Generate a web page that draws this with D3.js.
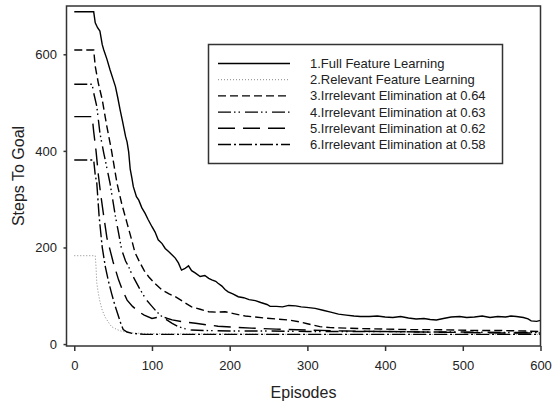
<!DOCTYPE html>
<html>
<head>
<meta charset="utf-8">
<script src="https://cdn.jsdelivr.net/npm/d3@7"></script>
<style>
  body { margin: 0; background: #fff; }
  svg { display: block; font-family: "Liberation Sans", Arial, sans-serif; }
  .axis text { font-size: 13px; fill: #222; }
  .axis path, .axis line { stroke: #333; stroke-width: 1.5; }
</style>
</head>
<body>
<svg id="chart" width="553" height="404"></svg>
<script>

// [episode, steps]
var fullFeature = [[0,688],[25,688],[27,665],[30,655],[33,648],[36,620],[38,609],[42,590],[46,568],[50,548],[53,533],[56,510],[59,485],[62,462],[66,430],[68,418],[70,398],[72,362],[74,345],[76,326],[80,305],[83,298],[87,282],[91,271],[95,258],[100,243],[104,232],[108,216],[113,208],[117,198],[121,192],[125,186],[130,178],[134,168],[138,153],[142,156],[147,162],[151,152],[156,147],[162,140],[168,142],[173,136],[177,133],[182,130],[185,126],[190,120],[194,113],[198,108],[204,104],[211,98],[218,96],[225,92],[233,90],[240,86],[248,82],[252,78],[260,78],[268,77],[276,80],[285,79],[292,77],[299,76],[310,74],[320,70],[330,66],[340,62],[350,60],[360,58],[368,57],[380,57],[390,58],[400,56],[410,55],[420,57],[430,54],[440,52],[450,53],[458,51],[466,50],[475,53],[485,56],[496,57],[505,55],[515,56],[525,58],[535,55],[545,57],[555,56],[562,58],[569,57],[578,55],[584,52],[588,48],[595,47],[600,49]];
var relevantFeature = [[0,183],[27,183],[28,160],[29,126],[31,105],[33,88],[36,70],[40,55],[44,45],[48,36],[55,30],[60,27],[66,25],[75,23],[90,22],[120,21],[200,21],[300,20],[400,20],[500,20],[600,20]];
var elim064 = [[0,609],[25,609],[27,575],[31,540],[36,506],[42,450],[48,400],[55,333],[61,291],[68,250],[74,215],[78,190],[84,170],[90,152],[96,139],[104,125],[113,112],[122,104],[130,98],[140,88],[151,77],[162,72],[173,67],[184,66],[194,67],[205,63],[220,58],[233,56],[245,54],[260,52],[275,50],[290,46],[300,42],[316,36],[330,34],[350,33],[370,32],[400,31],[430,30],[460,30],[490,29],[520,28],[550,28],[580,27],[600,26]];
var elim063 = [[0,538],[23,538],[25,520],[29,492],[33,437],[38,395],[40,380],[46,333],[53,264],[57,230],[61,195],[66,172],[70,160],[74,145],[78,133],[85,112],[93,91],[100,78],[106,67],[112,58],[119,50],[126,43],[134,36],[142,32],[151,29],[170,28],[200,27],[250,27],[300,26],[350,26],[400,26],[450,25],[500,25],[550,24],[600,24]];
var elim062 = [[0,471],[23,471],[25,440],[28,400],[31,350],[34,310],[38,264],[42,220],[46,195],[50,170],[57,133],[62,112],[68,91],[75,78],[83,67],[90,60],[100,53],[106,55],[113,57],[120,53],[126,50],[140,46],[156,43],[170,40],[185,37],[205,35],[228,33],[260,31],[300,29],[350,27],[400,26],[450,25],[500,24],[550,23],[600,23]];
var elim058 = [[0,381],[25,381],[27,350],[29,333],[32,264],[36,200],[40,160],[44,130],[48,105],[52,82],[57,57],[60,42],[63,30],[68,25],[75,22],[90,20],[150,20],[250,20],[350,20],[450,20],[550,20],[600,20]];

var seriesNames = ["1.Full Feature Learning", "2.Relevant Feature Learning", "3.Irrelevant Elimination at 0.64",
  "4.Irrelevant Elimination at 0.63", "5.Irrelevant Elimination at 0.62", "6.Irrelevant Elimination at 0.58"];
var xTicks = [0, 100, 200, 300, 400, 500, 600];
var yTicks = [0, 200, 400, 600];

var seriesData = [fullFeature, relevantFeature, elim064, elim063, elim062, elim058];

// line looks for each series (solid, dotted, dashed, dash-dot-dot, long dash, dash-dot)
var styles = [
  { color: "#000", width: 1.4, dash: null },
  { color: "#888", width: 1, dash: "1,2" },
  { color: "#000", width: 1.4, dash: "8,4" },
  { color: "#000", width: 1.4, dash: "13,3,1.5,3,1.5,5" },
  { color: "#000", width: 1.4, dash: "17,8" },
  { color: "#000", width: 1.4, dash: "13,3,2,3" }
];

var svg = d3.select("#chart");
// note: "top" is taken by window.top, so plot edges get their own names
var plotLeft = 66.5, plotRight = 540.5, plotTop = 6, plotBottom = 346;

var x = d3.scaleLinear().domain([-10, 600]).range([plotLeft, plotRight]);
var y = d3.scaleLinear().domain([-4, 700]).range([plotBottom, plotTop]);

var line = d3.line().x(d => x(d[0])).y(d => y(d[1]));

svg.append("g").selectAll("path")
  .data(seriesData)
  .enter().append("path")
  .attr("d", d => line(d))
  .attr("fill", "none")
  .attr("stroke", (d, i) => styles[i].color)
  .attr("stroke-width", (d, i) => styles[i].width)
  .attr("stroke-dasharray", (d, i) => styles[i].dash);

// frame round the plot
svg.append("rect")
  .attr("x", plotLeft).attr("y", plotTop)
  .attr("width", plotRight - plotLeft).attr("height", plotBottom - plotTop)
  .attr("fill", "none").attr("stroke", "#333").attr("stroke-width", 1.5);

var xAxis = svg.append("g").attr("class", "axis")
  .attr("transform", "translate(0," + plotBottom + ")")
  .call(d3.axisBottom(x).tickValues(xTicks).tickSize(5).tickSizeOuter(0).tickPadding(10));
xAxis.select(".domain").remove();

var yAxis = svg.append("g").attr("class", "axis")
  .attr("transform", "translate(" + plotLeft + ",0)")
  .call(d3.axisLeft(y).tickValues(yTicks).tickSize(3).tickSizeOuter(0).tickPadding(6.5));
yAxis.select(".domain").remove();

svg.append("text")
  .attr("x", (plotLeft + plotRight) / 2).attr("y", 398)
  .attr("text-anchor", "middle").attr("font-size", 16).attr("fill", "#222")
  .text("Episodes");

svg.append("text")
  .attr("transform", "translate(24," + (plotTop + plotBottom) / 2 + ") rotate(-90)")
  .attr("text-anchor", "middle").attr("font-size", 16).attr("fill", "#222")
  .text("Steps To Goal");

// legend
var legend = svg.append("g");
legend.append("rect")
  .attr("x", 208.5).attr("y", 44.5).attr("width", 294).attr("height", 119)
  .attr("fill", "#fff").attr("stroke", "#333").attr("stroke-width", 1.5);

var rows = legend.selectAll("g.row")
  .data(seriesNames)
  .enter().append("g")
  .attr("class", "row")
  .attr("transform", (d, i) => "translate(0," + (63.5 + i * 16.2) + ")");

rows.append("line")
  .attr("x1", 218).attr("x2", 290)
  .attr("stroke", (d, i) => styles[i].color)
  .attr("stroke-width", (d, i) => styles[i].width)
  .attr("stroke-dasharray", (d, i) => styles[i].dash);

rows.append("text")
  .attr("x", 310).attr("dy", "0.35em")
  .attr("font-size", 13).attr("fill", "#222")
  .text(d => d);

</script>
</body>
</html>
